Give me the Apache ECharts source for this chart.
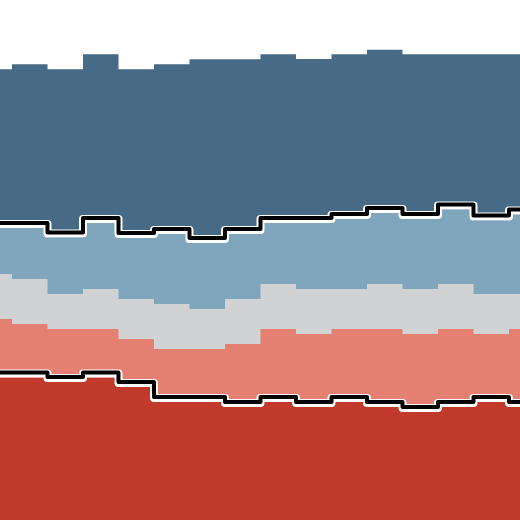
<!DOCTYPE html>
<html>
<head>
<meta charset="utf-8">
<script src="https://cdn.jsdelivr.net/npm/echarts@6/dist/echarts.min.js"></script>
<style>
  html, body { margin: 0; padding: 0; background: #fff; }
  #chart { width: 520px; height: 520px; }
</style>
</head>
<body>
<div id="chart"></div>
<script>
  // step positions, one value per step
  var steps = [0, 1, 2, 3, 4, 5, 6, 7, 8, 9, 10, 11, 12, 13, 14, 15];

  // layers from the bottom up
  var darkRed   = [142.5, 142.5, 138, 142.5, 133, 118, 118, 113, 118, 113, 118, 113, 108, 113, 118, 113];
  var salmon    = [58.5, 53.5, 53, 48.5, 48, 53, 53, 63, 73, 73, 73, 78, 78, 78, 68, 78];
  var grey      = [45, 45, 35, 40, 40, 45, 40, 45, 45, 45, 40, 45, 45, 45, 40, 35];
  var lightBlue = [46, 51, 56.5, 66, 61, 70, 66, 65, 61, 66, 70, 71, 70, 74.5, 73.5, 79.5];
  var darkBlue  = [158.7, 163.7, 168.2, 168.7, 168.7, 169.7, 183.7, 174.7, 168.7, 164, 164.7, 163.3, 164.7, 155.2, 166.2, 160.2];

  var layers = [
    {values: darkRed, color: '#c0392b'},
    {values: salmon, color: '#e48072'},
    {values: grey, color: '#d1d2d3'},
    {values: lightBlue, color: '#7fa6bd'},
    {values: darkBlue, color: '#476b87'}
  ];

  // running totals (stacking done here, each band drawn as a filled total)
  var cum = [];
  var run = steps.map(function () { return 0; });
  layers.forEach(function (l) {
    run = run.map(function (v, i) { return v + l.values[i]; });
    cum.push(run.slice());
  });

  var chart = echarts.init(document.getElementById('chart'));

  var series = [];
  // tallest total first so the lower bands paint over it
  for (var k = layers.length - 1; k >= 0; k--) {
    (function (totals, color, z) {
      series.push({
        type: 'line',
        step: 'middle',
        showSymbol: false,
        z: z,
        lineStyle: {width: 0, opacity: 0},
        areaStyle: {color: color, opacity: 1, origin: 'start'},
        data: steps.map(function (x, i) { return [x, totals[i]]; })
      });
    })(cum[k], layers[k].color, 2 + (layers.length - k) * 0.1);
  }

  function boundary(totals, lift, color, width, z) {
    return {
      type: 'line',
      step: 'middle',
      showSymbol: false,
      z: z,
      lineStyle: {color: color, width: width, cap: 'round', join: 'round'},
      data: steps.map(function (x, i) { return [x, totals[i] + lift]; })
    };
  }

  series.push(boundary(cum[0], 4, '#ffffff', 8, 10));
  series.push(boundary(cum[0], 5, '#000000', 4, 11));
  series.push(boundary(cum[3], 4, '#ffffff', 8, 10));
  series.push(boundary(cum[3], 5, '#000000', 4, 11));

  var option = {
    animation: false,
    grid: {left: 0, right: 0, top: 0, bottom: 0},
    xAxis: {
      type: 'value',
      min: 0.16197,
      max: 14.80986,
      show: false
    },
    yAxis: {
      type: 'value',
      min: 0,
      max: 520,
      show: false
    },
    series: series
  };
  chart.setOption(option);
</script>
</body>
</html>
